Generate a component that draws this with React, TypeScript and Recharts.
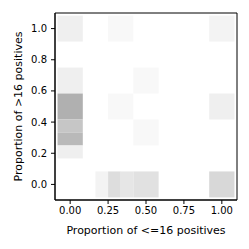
import { ScatterChart, Scatter, XAxis, YAxis, ReferenceArea } from "recharts"

// 2d histogram cells: edges in data units and the count in each cell
const cellX0 = [-1/12, 3/12, 11/12, -1/12, 5/12, -1/12, 3/12, 11/12, -1/12, 5/12, -1/12, -1/12, 2/12, 3/12, 4/12, 5/12, 11/12]
const cellX1 = [1/12, 5/12, 13/12, 1/12, 7/12, 1/12, 5/12, 13/12, 1/12, 7/12, 1/12, 1/12, 3/12, 4/12, 5/12, 7/12, 13/12]
const cellY0 = [11/12, 11/12, 11/12, 7/12, 7/12, 5/12, 5/12, 5/12, 4/12, 3/12, 3/12, 2/12, -1/12, -1/12, -1/12, -1/12, -1/12]
const cellY1 = [13/12, 13/12, 13/12, 9/12, 9/12, 7/12, 7/12, 7/12, 5/12, 5/12, 4/12, 3/12, 1/12, 1/12, 1/12, 1/12, 1/12]
const counts = [3, 1, 2, 3, 1, 17, 1, 3, 12, 1, 15, 3, 2, 7, 5, 6, 8]

const xTicks = [0, 0.25, 0.5, 0.75, 1]
const yTicks = [0, 0.2, 0.4, 0.6, 0.8, 1]

const grey = (n: number) => {
  const v = Math.round(252 - 4.5 * n)
  return `rgb(${v},${v},${v})`
}

const tickFont = { fontFamily: "DejaVu Sans", fontSize: 10, fill: "#000" }
const labelFont = { fontFamily: "DejaVu Sans", fontSize: 11, fill: "#000" }

export default function App() {
  return (
    <div style={{ position: "absolute", left: 0, top: 0, background: "#fff" }}>
      <ScatterChart width={249} height={249} margin={{ top: 13, right: 12, bottom: 13, left: 0 }}>
        <XAxis
          type="number"
          dataKey="x"
          domain={[-0.1, 1.1]}
          allowDataOverflow
          ticks={xTicks}
          tickFormatter={(v: number) => v.toFixed(2)}
          tick={tickFont}
          tickSize={4}
          tickMargin={3}
          height={36}
          stroke="#000"
          label={{ value: "Proportion of <=16 positives", position: "insideBottom", offset: 2, style: { ...labelFont, textAnchor: "middle" } }}
        />
        <YAxis
          type="number"
          dataKey="y"
          domain={[-0.1, 1.1]}
          allowDataOverflow
          ticks={yTicks}
          tickFormatter={(v: number) => v.toFixed(1)}
          tick={tickFont}
          tickSize={4}
          tickMargin={4}
          width={55}
          stroke="#000"
          label={{ value: "Proportion of >16 positives", angle: -90, position: "insideLeft", offset: 18, style: { ...labelFont, textAnchor: "middle" } }}
        />
        {counts.map((n, i) => (
          <ReferenceArea
            key={i}
            x1={cellX0[i]}
            x2={cellX1[i]}
            y1={cellY0[i]}
            y2={cellY1[i]}
            fill={grey(n)}
            fillOpacity={1}
            stroke="none"
          />
        ))}
        <ReferenceArea x1={-0.1} x2={1.1} y1={-0.1} y2={1.1} fill="none" stroke="#000" strokeWidth={1} />
        <Scatter data={[]} isAnimationActive={false} />
      </ScatterChart>
    </div>
  )
}
